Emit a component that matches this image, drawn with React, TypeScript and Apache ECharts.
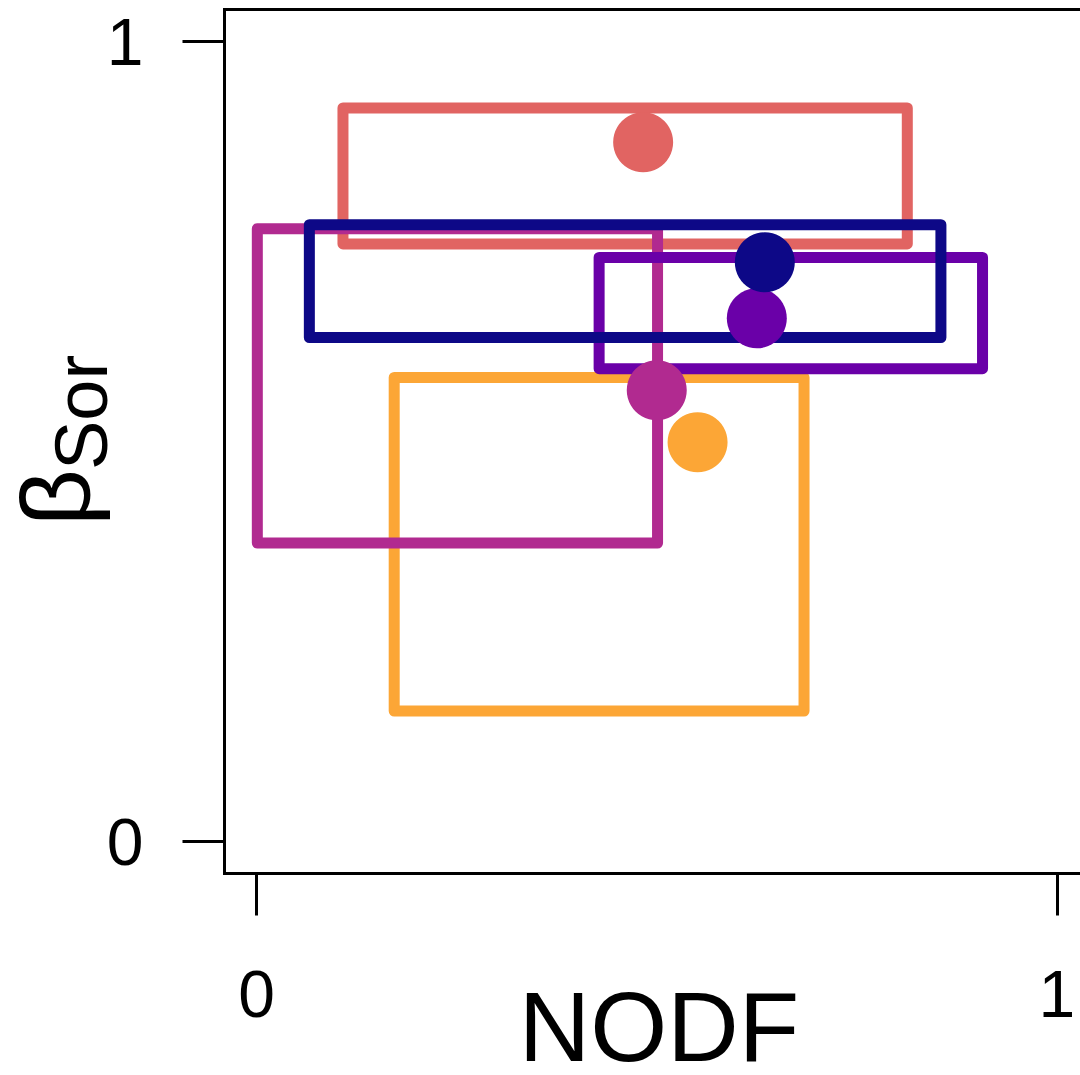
import React, { useEffect, useRef } from "react";
import * as echarts from "echarts";

// Draw order: orange, red, magenta, purple, blue
const groupColors = ["#FCA636", "#E16462", "#B12A90", "#6A00A8", "#0D0887"];
const nodfLow = [0.172, 0.108, 0.001, 0.428, 0.066];
const nodfHigh = [0.684, 0.813, 0.501, 0.907, 0.855];
const betaLow = [0.163, 0.747, 0.373, 0.591, 0.63];
const betaHigh = [0.58, 0.917, 0.766, 0.73, 0.771];
const nodfMean = [0.551, 0.483, 0.5, 0.625, 0.635];
const betaMean = [0.499, 0.874, 0.564, 0.654, 0.724];
const tickValues = [0, 1];

const FONT = "'Liberation Sans', Arial, Helvetica, sans-serif";

export default function App() {
  const ref = useRef<HTMLDivElement>(null);

  useEffect(() => {
    if (!ref.current) return;
    const chart = echarts.init(ref.current, null, { renderer: "svg" });

    const rectData = groupColors.map((_, i) => [nodfLow[i], nodfHigh[i], betaLow[i], betaHigh[i]]);
    const pointData = groupColors.map((c, i) => ({
      value: [nodfMean[i], betaMean[i]],
      itemStyle: { color: c, opacity: 1 },
    }));

    const axisCommon = {
      type: "value",
      min: -0.04,
      max: 1.04,
      axisLine: { show: false, onZero: false },
      splitLine: { show: false },
      axisTick: {
        show: true,
        customValues: tickValues,
        length: 42,
        lineStyle: { color: "#000", width: 3 },
      },
    };

    chart.setOption({
      animation: false,
      backgroundColor: "#fff",
      grid: {
        left: 224.5,
        top: 9.5,
        width: 864.5,
        height: 864,
        show: true,
        borderColor: "#000",
        borderWidth: 3,
        backgroundColor: "transparent",
        containLabel: false,
        outerBoundsMode: "none",
      },
      xAxis: {
        ...axisCommon,
        axisLabel: {
          customValues: tickValues,
          fontSize: 66,
          color: "#000",
          fontFamily: FONT,
          margin: 87,
          formatter: (v: number) => String(v),
        },
      },
      yAxis: {
        ...axisCommon,
        axisLabel: {
          customValues: tickValues,
          fontSize: 66,
          color: "#000",
          fontFamily: FONT,
          margin: 81,
          formatter: (v: number) => String(v),
        },
      },
      series: [
        {
          type: "custom",
          data: rectData,
          encode: { x: [0, 1], y: [2, 3] },
          renderItem: (params: any, api: any) => {
            const i = params.dataIndex;
            const p0 = api.coord([api.value(0), api.value(3)]);
            const p1 = api.coord([api.value(1), api.value(2)]);
            return {
              type: "rect",
              shape: { x: p0[0], y: p0[1], width: p1[0] - p0[0], height: p1[1] - p0[1] },
              style: {
                fill: "none",
                stroke: groupColors[i],
                lineWidth: 11,
                lineJoin: "round",
              },
            };
          },
          z: 2,
        },
        {
          type: "scatter",
          data: pointData,
          symbol: "circle",
          symbolSize: 60,
          itemStyle: { opacity: 1 },
          z: 3,
        },
      ],
      graphic: [
        {
          type: "text",
          x: 659,
          y: 1026,
          style: {
            text: "NODF",
            fontSize: 99,
            lineHeight: 76,
            fontFamily: FONT,
            fill: "#000",
            textAlign: "center",
            textVerticalAlign: "middle",
          },
        },
        {
          type: "text",
          x: 55,
          y: 526,
          rotation: Math.PI / 2,
          style: {
            text: "β",
            fontSize: 99,
            lineHeight: 90,
            fontFamily: FONT,
            fill: "#000",
            textAlign: "left",
            textVerticalAlign: "middle",
          },
        },
        {
          type: "text",
          x: 81,
          y: 470,
          rotation: Math.PI / 2,
          style: {
            text: "Sor",
            fontSize: 74,
            fontFamily: FONT,
            fill: "#000",
            textAlign: "left",
            textVerticalAlign: "middle",
          },
        },
      ],
    });

    return () => chart.dispose();
  }, []);

  return (
    <div
      style={{
        position: "fixed",
        left: 0,
        top: 0,
        width: 1080,
        height: 1075,
        overflow: "hidden",
        background: "#fff",
      }}
    >
      <div ref={ref} style={{ width: 1100, height: 1075 }} />
    </div>
  );
}
